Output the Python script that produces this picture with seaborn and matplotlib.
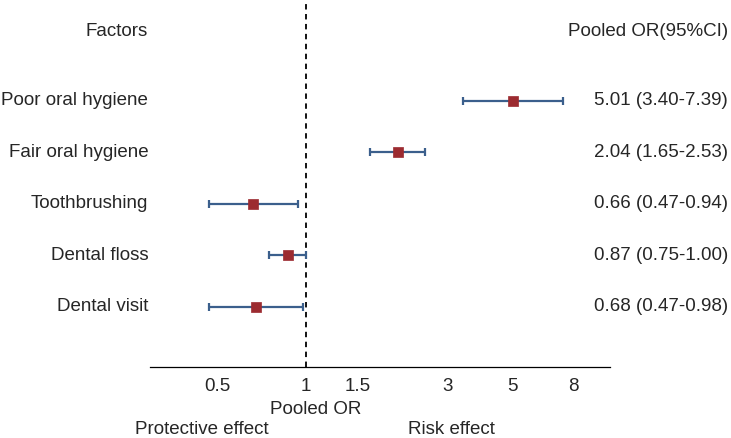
import numpy as np
import pandas as pd
import matplotlib
matplotlib.use("Agg")
import matplotlib.pyplot as plt
import seaborn as sns

# data
factors = ["Poor oral hygiene", "Fair oral hygiene", "Toothbrushing", "Dental floss", "Dental visit"]
pooled_or = [5.01, 2.04, 0.66, 0.87, 0.68]
ci_low = [3.40, 1.65, 0.47, 0.75, 0.47]
ci_high = [7.39, 2.53, 0.94, 1.00, 0.98]
tick_values = [0.5, 1, 1.5, 3, 5, 8]
tick_labels = ["0.5", "1", "1.5", "3", "5", "8"]

df = pd.DataFrame({"factor": factors, "OR": pooled_or, "low": ci_low, "high": ci_high})
df["row"] = np.arange(len(df))
df["label"] = [f"{o:.2f} ({l:.2f}-{h:.2f})" for o, l, h in zip(df.OR, df.low, df.high)]

sns.set_style("white")
plt.rcParams["font.family"] = ["Liberation Sans", "DejaVu Sans"]
FS = 13.5

fig = plt.figure(figsize=(7.31, 4.38), dpi=100)
ax = fig.add_axes([150 / 731, 1 - 367 / 438, 460 / 731, 367 / 438])

# confidence intervals
ax.errorbar(df.OR, df.row, xerr=[df.OR - df.low, df.high - df.OR], fmt="none",
            ecolor="#3B5F8C", elinewidth=1.6, capsize=3.2, capthick=1.6, zorder=2)
# point estimates
sns.scatterplot(data=df, x="OR", y="row", marker="s", s=60, color="#9C2B30",
                edgecolor="#9C2B30", linewidth=0.5, ax=ax, zorder=3)

ax.axvline(1, color="black", linestyle=(0, (3, 2.5)), linewidth=1.3, zorder=1)

ax.set_xscale("log")
ax.set_xlim(0.297, 10.65)
ax.set_ylim(5.17, -1.96)
ax.set_xticks(tick_values)
ax.set_xticklabels(tick_labels)
ax.minorticks_off()
ax.set_yticks([])
ax.tick_params(axis="x", length=0, pad=8, labelsize=FS)
ax.set_xlabel("")
ax.set_ylabel("")
for side in ["top", "right", "left"]:
    ax.spines[side].set_visible(False)
ax.spines["bottom"].set_color("black")
ax.spines["bottom"].set_linewidth(0.9)

ytr = ax.get_yaxis_transform()
for _, r in df.iterrows():
    ax.text(-0.004, r.row, r.factor, transform=ytr, ha="right", va="center", fontsize=FS, clip_on=False)
    ax.text(1.2565, r.row, r.label, transform=ytr, ha="right", va="center", fontsize=FS, clip_on=False)
ax.text(-0.004, -1.34, "Factors", transform=ytr, ha="right", va="center", fontsize=FS, clip_on=False)
ax.text(1.2565, -1.34, "Pooled OR(95%CI)", transform=ytr, ha="right", va="center", fontsize=FS, clip_on=False)

fig.text(316 / 731, 1 - 409 / 438, "Pooled OR", ha="center", va="center", fontsize=FS)
fig.text(202 / 731, 1 - 429 / 438, "Protective effect", ha="center", va="center", fontsize=FS)
fig.text(451 / 731, 1 - 429 / 438, "Risk effect", ha="center", va="center", fontsize=FS)

fig.savefig("out.png", dpi=100)
